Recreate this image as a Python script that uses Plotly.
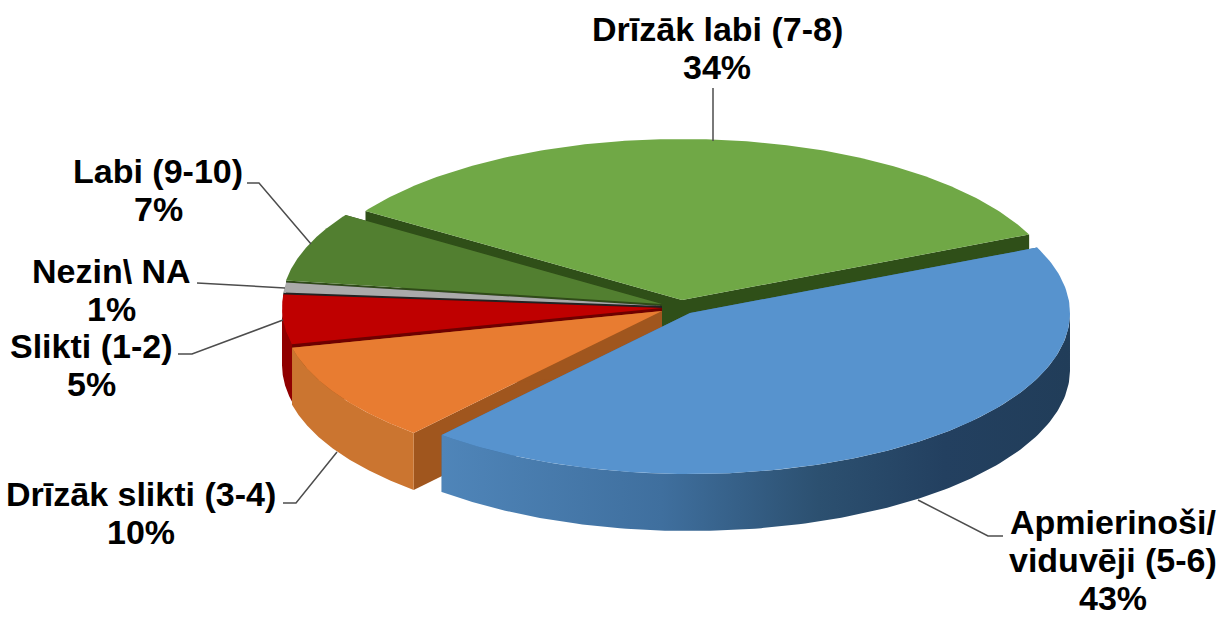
import numpy as np
import plotly.graph_objects as go

# Data: clockwise from the first slice
categories = ["Apmierinoši/<br>viduvēji (5-6)", "Drīzāk slikti (3-4)", "Slikti (1-2)",
              "Nezin\\ NA", "Labi (9-10)", "Drīzāk labi (7-8)"]
values = [43, 10, 5, 1, 7, 34]

# Styles
top_colors = ["#5793ce", "#e87c31", "#bf0000", "#aaaaaa", "#527f30", "#70a846"]
rim_colors = ["#234060", "#cb7530", "#900000", "#666666", "#34521c", "#2f4f18"]
cut_colors = ["#3d6d9c", "#a0561e", "#6e0000", "#222222", "#2f4a18", "#2f4f18"]
apex_x = [690, 662, 662, 662, 662, 682]
apex_y = [313, 311, 308, 306, 304, 300]
draw_order = [5, 4, 3, 2, 1, 0]
blue_gradient = [[0, "#4f85b9"], [0.35, "#3f6f9e"], [0.6, "#2c5070"], [0.8, "#234060"], [1, "#213d59"]]

label_x = [1113, 141, 91, 111, 158, 717]
label_y = [560, 513, 365, 290, 190, 48]
LINE_PITCH = 38
leaders = [
    [(918, 500), (988, 536), (1003, 536)],
    [(283, 503), (296, 503), (337, 452)],
    [(178, 354), (192, 354), (283, 320)],
    [(197, 283), (285, 288)],
    [(247, 183), (259, 183), (311, 244)],
    [(713, 88), (713, 141)],
]

START_DEG = 24.0
RX, RY, DEPTH = 380.0, 161.0, 57.0

edges = START_DEG - np.concatenate([[0], np.cumsum(values)]) * 360.0 / sum(values)


def rim(i, t_deg):
    t = np.radians(t_deg)
    return apex_x[i] + RX * np.cos(t), apex_y[i] - RY * np.sin(t)


def poly(xs, ys, color, gradient=None):
    kw = dict(x=xs, y=ys, mode="lines", fill="toself", line=dict(width=0),
              hoverinfo="skip", showlegend=False)
    if gradient:
        kw["fillgradient"] = dict(type="horizontal", colorscale=gradient)
    else:
        kw["fillcolor"] = color
    return go.Scatter(**kw)


fig = go.Figure()
for i in draw_order:
    t = np.linspace(edges[i], edges[i + 1], 160)
    x, y = rim(i, t)
    ax, ay = apex_x[i], apex_y[i]
    # the two cut faces, each its own quad
    for px, py in ((x[0], y[0]), (x[-1], y[-1])):
        fig.add_trace(poly([px, ax, ax, px, px], [py, ay, ay + DEPTH, py + DEPTH, py], cut_colors[i]))
    # outer rim wall: only the front half of the disc shows
    vis = np.sin(np.radians(t)) <= 0
    if vis.sum() > 1:
        xv, yv = x[vis], y[vis]
        fig.add_trace(poly(np.r_[xv, xv[::-1], xv[0]], np.r_[yv, yv[::-1] + DEPTH, yv[0]],
                           rim_colors[i], blue_gradient if i == 0 else None))
    # top face
    fig.add_trace(poly(np.r_[ax, x, ax], np.r_[ay, y, ay], top_colors[i]))

shapes = []
for pts in leaders:
    path = "M " + " L ".join(f"{a},{b}" for a, b in pts)
    shapes.append(dict(type="path", path=path, xref="x", yref="y",
                       line=dict(color="#4d4d4d", width=1.5)))

annotations = []
for c, v, lx, ly in zip(categories, values, label_x, label_y):
    lines = c.split("<br>") + [f"{v}%"]
    first = ly - LINE_PITCH * (len(lines) - 1) / 2
    for k, line in enumerate(lines):
        annotations.append(dict(
            x=lx, y=first + k * LINE_PITCH, xref="x", yref="y", text=f"<b>{line}</b>",
            showarrow=False, xanchor="center", yanchor="middle",
            font=dict(family="Liberation Sans", size=34, color="#000000")))

fig.update_layout(
    width=1220, height=617, margin=dict(l=0, r=0, t=0, b=0),
    paper_bgcolor="#ffffff", plot_bgcolor="#ffffff",
    xaxis=dict(range=[0, 1220], visible=False, fixedrange=True),
    yaxis=dict(range=[617, 0], visible=False, fixedrange=True),
    shapes=shapes, annotations=annotations,
)
fig.write_html("out.html", config={"displayModeBar": False},
               post_script="document.body.style.margin='0';document.body.style.overflow='hidden';")
